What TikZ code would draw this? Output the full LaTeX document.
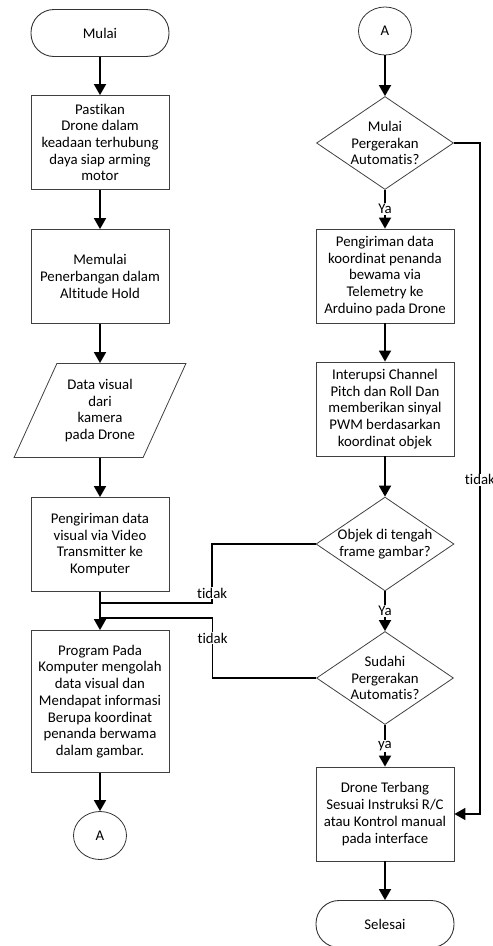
\documentclass[tikz,border=0pt]{standalone}
\usepackage{fontspec}
\setmainfont{Carlito}[Ligatures=NoCommon]
\usetikzlibrary{shapes,shapes.geometric,arrows.meta,calc,positioning}
\tikzset{term/.style={draw=black!80, line width=0.9pt, rectangle, rounded corners=23pt, minimum width=138pt, minimum height=47pt}}
\tikzset{proc/.style={draw=black!75, line width=0.8pt, rectangle, minimum width=138pt, minimum height=94pt, align=center, inner sep=2pt}}
\tikzset{io/.style={draw=black!75, line width=0.8pt, trapezium, trapezium left angle=61, trapezium right angle=119, trapezium stretches=true, minimum width=172pt, minimum height=94pt, inner sep=0pt, align=center}}
\tikzset{dec/.style={draw=black!75, line width=0.8pt, diamond, aspect=1.47, minimum width=137pt, minimum height=93pt, inner sep=0pt, align=center}}
\tikzset{conn/.style={draw=black!80, line width=0.8pt, ellipse, minimum width=53pt, minimum height=48pt}}
\tikzstyle{lbl}=[fill=white, inner sep=1pt]

\begin{document}
\begin{tikzpicture}[x=1pt, y=-1pt, >={Triangle[width=12pt,length=11pt]}, line width=1.8pt,
  font=\fontsize{14.8}{16.7}\selectfont]
\useasboundingbox (0,0) rectangle (493,946);
% kolom kiri
\node[term] (mulai) at (100,33) {Mulai};
\node[proc][below of=mulai, node distance=109.5pt] (pastikan) {Pastikan\\Drone dalam\\keadaan terhubung\\daya siap arming\\motor};
\node[proc][below of=pastikan, node distance=134pt] (terbang) {Memulai\\Penerbangan dalam\\Altitude Hold};
\node[io][below of=terbang, node distance=134pt] (visual) {Data visual\\dari\\kamera\\pada Drone};
\node[proc][below of=visual, node distance=134pt] (kirim) {Pengiriman data\\visual via Video\\Transmitter ke\\Komputer};
\node[proc, minimum height=142pt][below of=kirim, node distance=157pt] (olah) {Program Pada\\Komputer mengolah\\data visual dan\\Mendapat informasi\\Berupa koordinat\\penanda berwama\\dalam gambar.};
\node[conn][below of=olah, node distance=134pt] (keA) {A};
% kolom kanan
\node[conn] (dariA) at (385,31) {A};
\node[dec][below of=dariA, node distance=112pt] (mulaiauto) {Mulai\\Pergerakan\\Automatis?};
\node[proc][below of=mulaiauto, node distance=133pt] (telemetri) {Pengiriman data\\koordinat penanda\\bewama via\\Telemetry ke\\Arduino pada Drone};
\node[proc][below of=telemetri, node distance=133pt] (interupsi) {Interupsi Channel\\Pitch dan Roll Dan\\memberikan sinyal\\PWM berdasarkan\\koordinat objek};
\node[dec][below of=interupsi, node distance=135pt] (tengah) {Objek di tengah\\frame gambar?};
\node[dec][below of=tengah, node distance=134pt] (sudahi) {Sudahi\\Pergerakan\\Automatis?};
\node[proc][below of=sudahi, node distance=136pt] (manual) {Drone Terbang\\Sesuai Instruksi R/C\\atau Kontrol manual\\pada interface};
\node[term][below of=manual, node distance=110pt] (selesai) {Selesai};
\coordinate (j1) at (100,603);
\coordinate (j2) at (100,618);

\path[->] (mulai) edge (pastikan)
  (pastikan) edge (terbang)
  (terbang) edge (visual)
  (visual) edge (kirim)
  (kirim) edge (olah)
  (olah) edge (keA);
\path[->] (dariA) edge (mulaiauto)
  (mulaiauto) edge node[lbl] {Ya} (telemetri)
  (telemetri) edge (interupsi)
  (interupsi) edge (tengah)
  (tengah) edge node[lbl] {Ya} (sudahi)
  (sudahi) edge node[lbl] {ya} (manual)
  (manual) edge (selesai);
\draw[->, line width=1.5pt] (mulaiauto.east) -- ++(26,0) |- node[lbl, pos=0.251] {tidak} (manual.east);
\draw[line width=1.5pt] (tengah.west) -- ++(-103.5,0) |- node[lbl, pos=0.415] {tidak} (j1);
\draw[line width=1.5pt] (sudahi.west) -- ++(-103.5,0) |- node[lbl, pos=0.333] {tidak} (j2);
\end{tikzpicture}
\end{document}
